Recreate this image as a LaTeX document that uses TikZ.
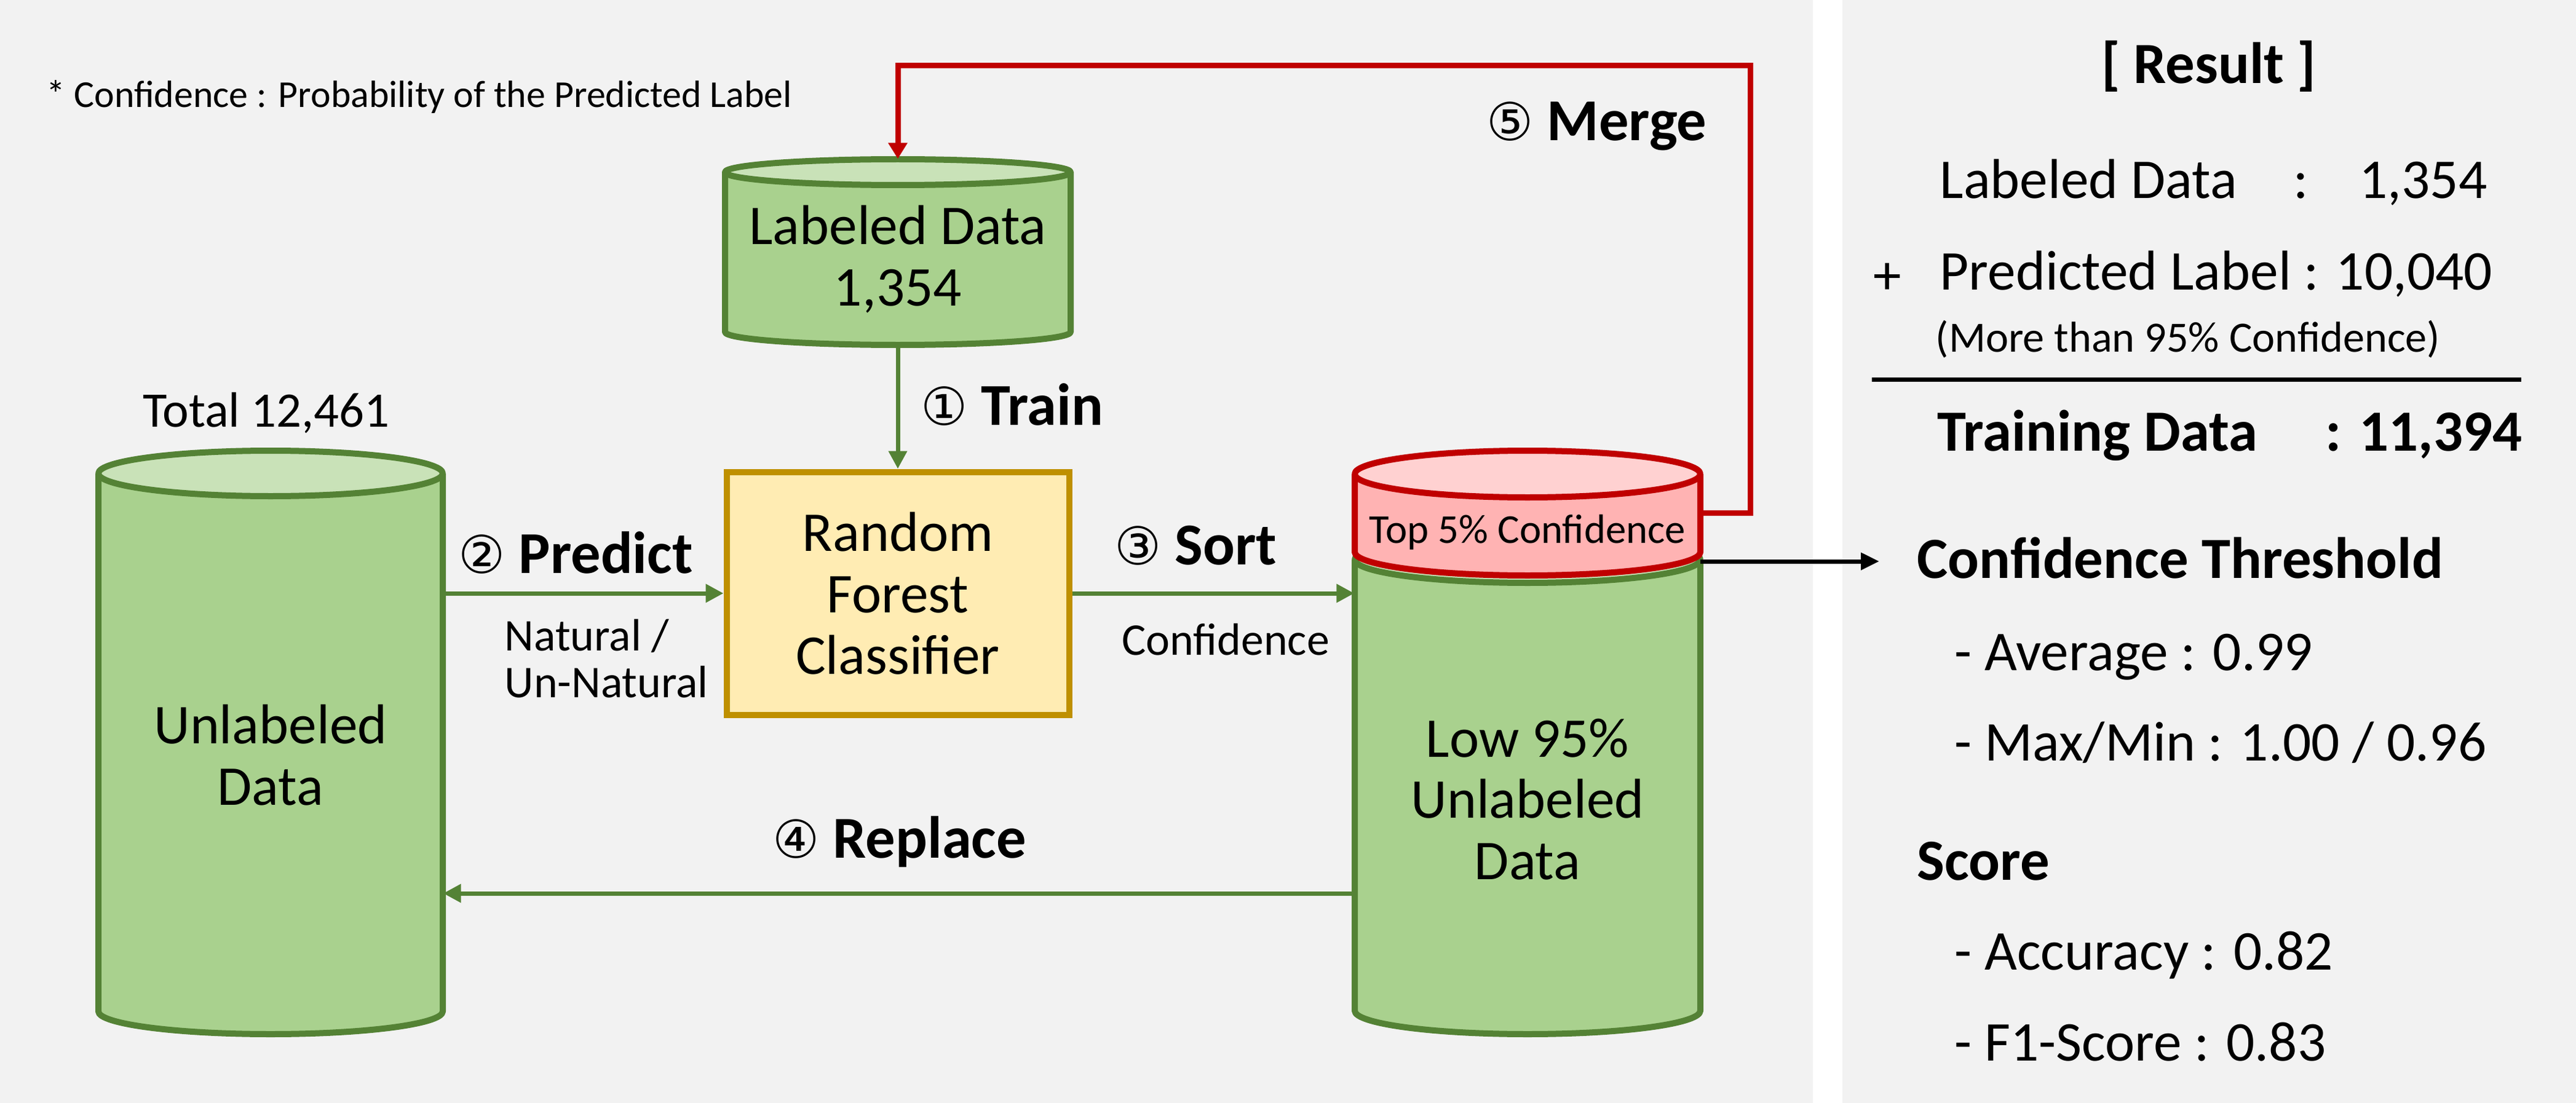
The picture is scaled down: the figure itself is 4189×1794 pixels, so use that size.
\documentclass[tikz,border=0pt]{standalone}
\usepackage{fontspec}
\setmainfont{Carlito}
\newfontfamily\symfont[Scale=0.88]{DejaVu Sans}
\usepackage{xcolor}
\usetikzlibrary{calc,arrows.meta}
\definecolor{panel}{HTML}{F2F2F2}
\definecolor{greenside}{HTML}{A9D18E}
\definecolor{greenlid}{HTML}{C9E2B8}
\definecolor{greenline}{HTML}{548235}
\definecolor{redside}{HTML}{FFB3B3}
\definecolor{redlid}{HTML}{FFD1D1}
\definecolor{redline}{HTML}{C00000}
\definecolor{rfbox}{HTML}{FFECB3}
\definecolor{rfline}{HTML}{BF9000}
\newcommand{\bigfont}{\fontsize{26}{28.4}\selectfont}
\newcommand{\circnum}[1]{{\symfont\mdseries #1}}
\tikzset{
  drum/.style={line width=1mm,line join=round,draw=#1line},
  rfnode/.style={draw=rfline,fill=rfbox,line width=1mm,minimum width=55.7mm,minimum height=39.5mm,align=center,font=\bigfont},
  bigtxt/.style={align=center,inner sep=0,font=\bigfont},
  midtxt/.style={inner sep=0,font=\fontsize{23}{25}\selectfont},
  toptxt/.style={inner sep=0,font=\fontsize{19}{20}\selectfont},
  notetxt/.style={anchor=base west,inner sep=0,font=\fontsize{17.6}{20}\selectfont},
  subtxt/.style={inner sep=0,align=left,font=\fontsize{21}{21.6}\selectfont},
  steptxt/.style={anchor=base west,inner sep=0,font=\fontsize{27.5}{30}\selectfont\bfseries},
  rowtxt/.style={anchor=base west,inner sep=0,font=\bigfont},
  headtxt/.style={anchor=base west,inner sep=0,font=\fontsize{27}{30}\selectfont\bfseries},
  garrow/.style={draw=greenline,line width=0.7mm,-{Triangle[length=2.9mm,width=2.9mm]}},
  rarrow/.style={draw=redline,line width=0.9mm,-{Triangle[length=2.6mm,width=3mm]}},
  karrow/.style={draw=black,line width=0.7mm,-{Triangle[length=3mm,width=2.7mm]}}
}
% #1 name, #2 centre x, #3 lid centre y, #4 base centre y, #5 half width, #6 ry, #7 colour
\newcommand{\drum}[7]{%
  \filldraw[drum=#7,fill=#7side] (#2-#5,#3) -- (#2-#5,#4)
    arc[start angle=180,end angle=0,x radius=#5,y radius=#6] -- (#2+#5,#3);
  \filldraw[drum=#7,fill=#7lid] (#2,#3) ellipse[x radius=#5,y radius=#6];
  \node[inner sep=0,minimum width=2*#5*0.1mm,minimum height=(#4-#3+2*#6)*0.1mm] (#1) at (#2,{(#3+#4)/2}) {};
}
\begin{document}
\begin{tikzpicture}[x=0.1mm,y=-0.1mm]
  \useasboundingbox (0,0) rectangle (4189,1794);
  \fill[white] (0,0) rectangle (4189,1794);
  \fill[panel] (0,0) rectangle (2948,1794);
  \fill[panel] (2996,0) rectangle (4189,1794);
  \node[notetxt] (note) at (75,175) {* Confidence : Probability of the Predicted Label};
  % stores
  \drum{unlab}{440}{770}{1645}{280}{37}{green}
  \drum{lab}{1460}{280}{540}{281}{21}{green}
  \drum{low}{2484}{910}{1644}{281}{38}{green}
  \drum{top}{2484}{771}{898}{281}{38}{red}
  \node[rfnode] (rf) at (1460,965) {Random\\Forest\\Classifier};
  \node[bigtxt] (unlabtxt) at (440,1228) {Unlabeled\\Data};
  \node[bigtxt] (labtxt) at (1460,422) {Labeled Data\\1,354};
  \node[bigtxt] (lowtxt) at (2484,1300) {Low 95\%\\Unlabeled\\Data};
  \node[toptxt] (toptxt) at (2484,866) {Top 5\% Confidence};
  \node[midtxt] (total) at (433,672) {Total 12,461};
  % steps
  \node[steptxt] (train) at (1497,691) {\circnum{①} Train};
  \node[steptxt] (predict) at (745,932) {\circnum{②} Predict};
  \node[steptxt] (sort) at (1812,918) {\circnum{③} Sort};
  \node[steptxt] (replace) at (1256,1395) {\circnum{④} Replace};
  \node[steptxt] (merge) at (2417,229) {\circnum{⑤} Merge};
  \node[subtxt,anchor=west] (natural) at (820,1071) {Natural /\\Un-Natural};
  \node[subtxt] (bycon) at (1993,1040) {Confidence};
  % arrows
  \coordinate (rep) at (1400,1453);
  \coordinate (mergetop) at (2846,107);
  \coordinate (rim) at (2765,913);
  \draw[garrow] (lab.south) -- (rf.north);
  \draw[garrow] (unlab.east |- rf.west) -- (rf.west);
  \draw[garrow] (rf.east) -- (rf.east -| low.west);
  \draw[garrow] (low.west |- rep) -- (unlab.east |- rep);
  \draw[rarrow] (top.east) -| (mergetop) -| (lab.north);
  % result panel
  \node[headtxt,anchor=center] (result) at (3592,108) {[ Result ]};
  \node[rowtxt] (labrow) at (3154,322) {Labeled Data\hspace{9.2mm}:\hspace{8.2mm}1,354};
  \node[bigtxt] (plus) at (3069,453) {+};
  \node[rowtxt] (predrow) at (3154,471) {Predicted Label : 10,040};
  \node[rowtxt,font=\fontsize{20}{22}\selectfont] (morerow) at (3147,572) {(More than 95\% Confidence)};
  \draw[line width=0.7mm] (3044,617) -- (4100,617);
  \node[headtxt] (trainrow) at (3150,733) {Training Data\hspace{11.1mm}: 11,394};
  \node[headtxt] (conf) at (3117,940) {Confidence Threshold};
  \node[rowtxt] (avg) at (3178,1090) {- Average : 0.99};
  \node[rowtxt] (maxmin) at (3178,1237) {- Max/Min : 1.00 / 0.96};
  \node[headtxt] (score) at (3117,1431) {Score};
  \node[rowtxt] (acc) at (3178,1577) {- Accuracy : 0.82};
  \node[rowtxt] (fone) at (3178,1725) {- F1-Score : 0.83};
  \draw[karrow,shorten >=6.1mm] (rim) -- (rim -| conf.west);
\end{tikzpicture}
\end{document}
